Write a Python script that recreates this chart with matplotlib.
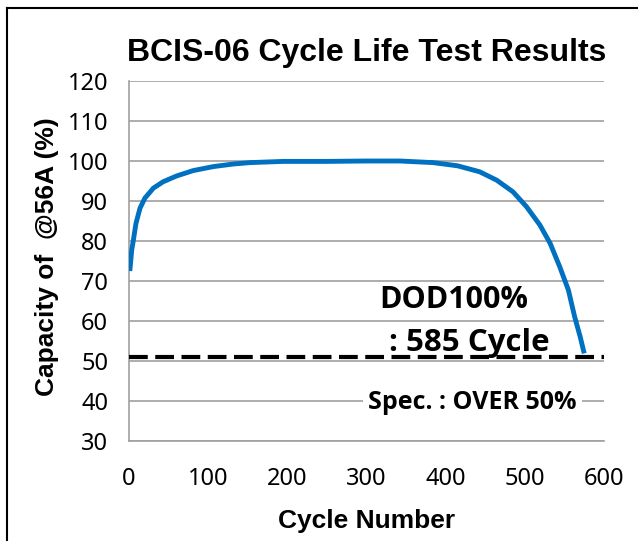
import matplotlib
matplotlib.use("Agg")
import matplotlib.pyplot as plt
from matplotlib.lines import Line2D

# cycle life data
cycles = [1, 2, 3.4, 5.5, 8.8, 13.9, 20, 30.7, 43, 60, 81, 106.5, 131.8, 153,
          195, 250, 300, 342, 384, 415, 443, 464.5, 485, 502, 519, 532, 544,
          555, 563, 570, 575]
capacity = [72.5, 74.5, 77.7, 80.2, 84.4, 88.2, 90.7, 93.2, 94.8, 96.25, 97.6, 98.6, 99.25, 99.6,
            99.9, 99.9, 100, 100, 99.6, 98.8, 97.3, 95.2, 92.3, 88.6, 84, 79.4, 73.6,
            67.75, 61, 56, 51.9]
spec_limit = 51
x_ticks = [0, 100, 200, 300, 400, 500, 600]
y_ticks = [30, 40, 50, 60, 70, 80, 90, 100, 110, 120]

fig = plt.figure(figsize=(6.38, 5.41), dpi=100)
ax = fig.add_axes([129 / 638, 1 - 441 / 541, 475 / 638, 360 / 541])

# frame lines of the original image
fig.add_artist(Line2D([7 / 638, 7 / 638], [0, 1 - 8 / 541], color='black', lw=1.5, transform=fig.transFigure))
fig.add_artist(Line2D([7 / 638, 1], [1 - 8 / 541, 1 - 8 / 541], color='black', lw=1.5, transform=fig.transFigure))

ax.set_xlim(0, 600)
ax.set_ylim(30, 120)
ax.set_xticks(x_ticks)
ax.set_yticks(y_ticks)
ax.grid(axis='y', color='#a0a0a0', lw=1.2)
ax.set_axisbelow(True)
for s in ['top', 'right']:
    ax.spines[s].set_visible(False)
for s in ['left', 'bottom']:
    ax.spines[s].set_color('#a0a0a0')
    ax.spines[s].set_linewidth(1.2)
ax.tick_params(length=0, labelsize=17)
ax.tick_params(axis='x', pad=19)
ax.tick_params(axis='y', pad=15)
for lbl in ax.get_xticklabels() + ax.get_yticklabels():
    lbl.set_fontfamily('Noto Sans')

ax.axhline(spec_limit, color='black', lw=3, dashes=(4.5, 1.8), zorder=3)
ax.plot(cycles, capacity, color='#0070c0', lw=3.5, solid_capstyle='butt',
        solid_joinstyle='round', zorder=4)

ax.text(410, 65.3, 'DOD100%', fontsize=22, fontweight='bold', family='Open Sans',
        ha='center', va='center', zorder=5)
ax.text(430, 54.6, ': 585 Cycle', fontsize=22.5, fontweight='bold', family='Open Sans',
        ha='center', va='center', zorder=5)
ax.text(434, 39.6, 'Spec. : OVER 50%', fontsize=18, fontweight='bold', family='Open Sans',
        ha='center', va='center', zorder=5,
        bbox=dict(facecolor='white', edgecolor='none', pad=4))

fig.text(367 / 638, 1 - 53 / 541, 'BCIS-06 Cycle Life Test Results', fontsize=23,
         fontweight='bold', family='Liberation Sans', ha='center', va='center')
fig.text(367 / 638, 1 - 521 / 541, 'Cycle Number', fontsize=19,
         fontweight='bold', family='Liberation Sans', ha='center', va='center')
fig.text(47 / 638, 1 - 257 / 541, 'Capacity of  @56A (%)', fontsize=19, rotation=90,
         fontweight='bold', family='Liberation Sans', ha='center', va='center')

fig.savefig('out.png', dpi=100)
